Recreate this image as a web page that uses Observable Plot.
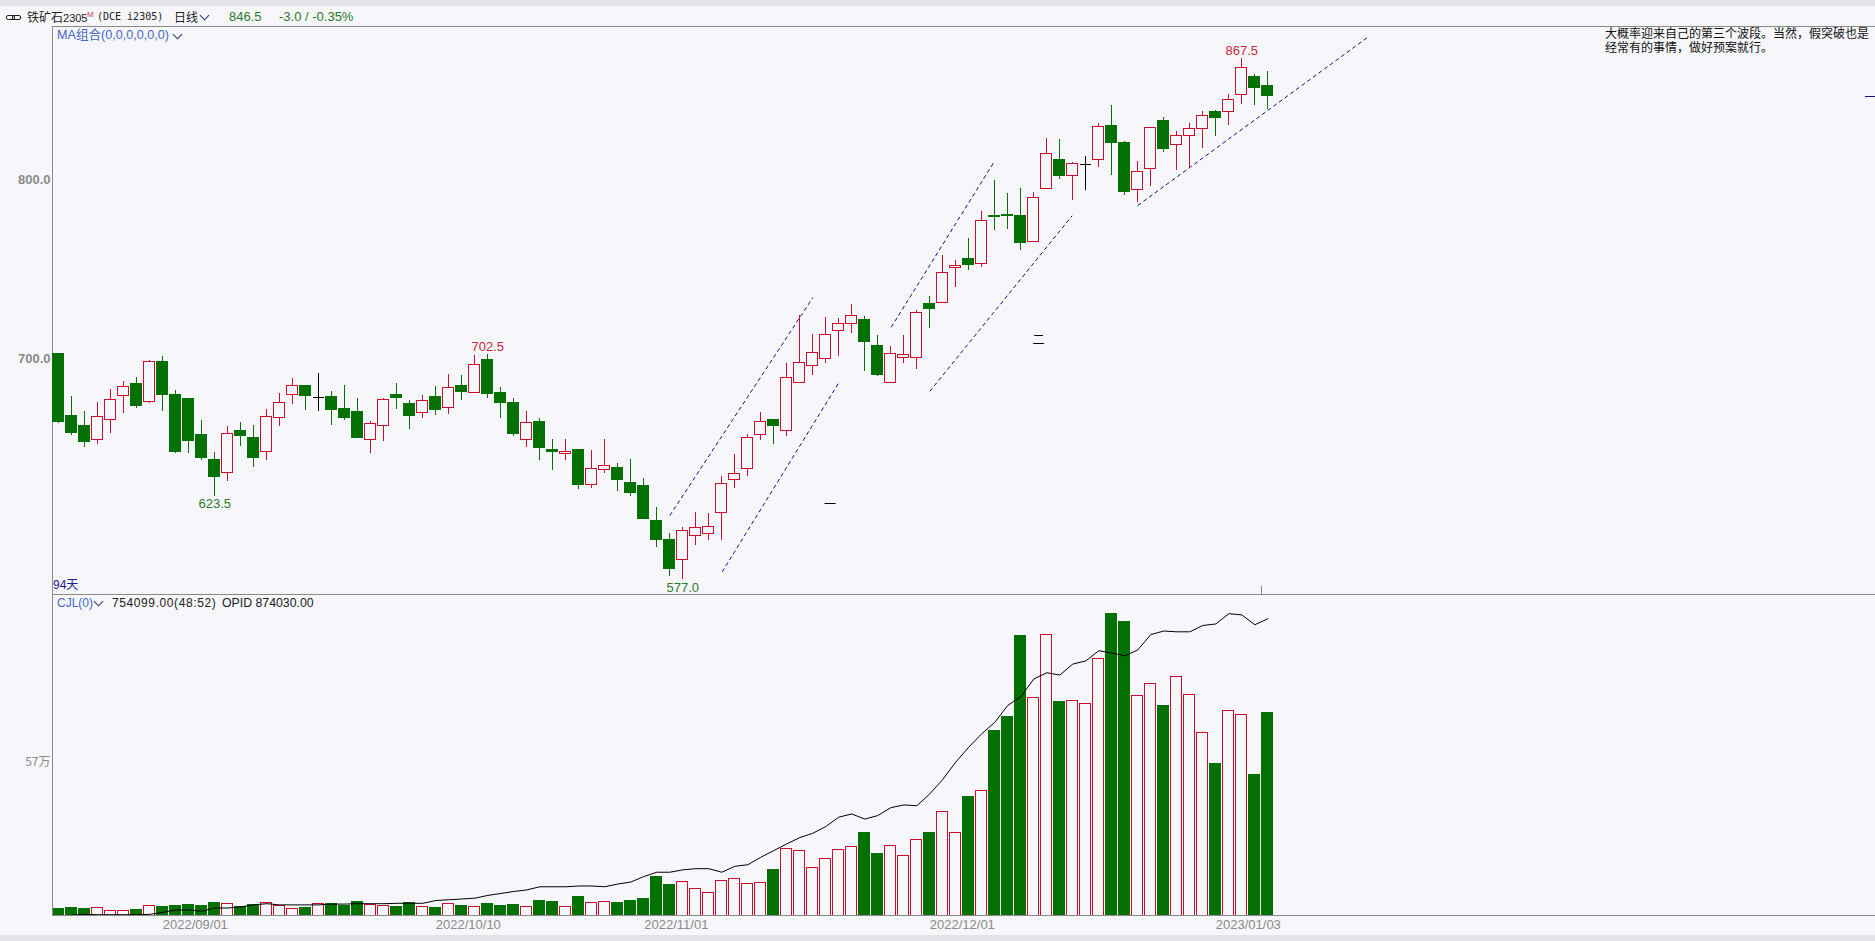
<!DOCTYPE html>
<html lang="zh">
<head>
<meta charset="utf-8">
<script src="https://cdn.jsdelivr.net/npm/d3@7"></script>
<script src="https://cdn.jsdelivr.net/npm/@observablehq/plot@0.6"></script>
<style>
html,body{margin:0;padding:0;width:1875px;height:941px;overflow:hidden;background:#f6f6fb;font-family:"Liberation Sans","Noto Sans CJK SC",sans-serif;}
.band{position:absolute;left:0;width:1875px;background:#e2e2e7;}
.t{position:absolute;white-space:pre;font-size:13px;line-height:14px;color:#222;}
.plot{position:absolute;left:0;}
.chev{position:absolute;width:6px;height:6px;border-right:1.3px solid #2c3e6e;border-bottom:1.3px solid #2c3e6e;transform:rotate(45deg);}
.link{position:absolute;width:7px;height:3px;border:1.5px solid #222;border-radius:2px;}
</style>
</head>
<body>
<div class="band" style="top:0;height:6px"></div>
<div class="band" style="top:935px;height:6px"></div>
<div id="price" class="plot" style="top:26px"></div>
<div id="volume" class="plot" style="top:594px"></div>

<span class="link" style="left:6px;top:15px"></span><span class="link" style="left:12px;top:15px"></span>
<span class="t" style="left:27px;top:10px;font-size:12px;font-family:'Noto Sans CJK SC'">铁矿石<span style="font-family:'Liberation Sans';font-size:11px">2305</span></span>
<span class="t" style="left:87px;top:8px;font-size:8px;color:#d8454f">M</span>
<span class="t" style="left:97px;top:10px;font-size:10px;font-family:'DejaVu Sans Mono'">(DCE i2305)</span>
<span class="t" style="left:174px;top:10px;font-size:12px;font-family:'Noto Sans CJK SC'">日线</span>
<span class="chev" style="left:201px;top:12px"></span>
<span class="t" style="left:229px;top:10px;color:#2c7a2c">846.5</span>
<span class="t" style="left:279px;top:10px;color:#2c7a2c">-3.0 / -0.35%</span>
<span class="t" style="left:57px;top:28px;color:#4a68c4;font-family:'Liberation Sans','Noto Sans CJK SC';font-size:12.6px">MA组合(0,0,0,0,0,0)</span>
<span class="chev" style="left:174px;top:31px"></span>
<span class="t" style="left:57px;top:596px;color:#4a68c4;font-size:12px">CJL(0)</span>
<span class="chev" style="left:95px;top:598px"></span>
<span class="t" style="left:112px;top:596px;font-size:12px;letter-spacing:.6px">754099.00(48:52)</span>
<span class="t" style="left:222px;top:596px;font-size:12.3px">OPID 874030.00</span>
<span class="t" style="left:53px;top:578px;font-size:12px;color:#1c1c8e;font-family:'Liberation Sans','Noto Sans CJK SC'">94天</span>
<span class="t" style="left:1605px;top:26px;font-size:12px;line-height:14.3px;color:#111;font-family:'Noto Sans CJK SC'">大概率迎来自己的第三个波段。当然，假突破也是
经常有的事情，做好预案就行。</span>

<script>
// Daily OHLC, iron ore 2305 (DCE i2305), 94 sessions
const open = [703,668,662.5,655,666,679.5,686,676,698.5,680,677.5,657.5,643.5,636.5,660,656,648,667,680,685,678.5,679,672,670.5,655,662.5,680,675,670,679,672.5,685,681,699.5,681,675.5,655,665,649,647,649,630,638,639,631,629,609.5,599,588,601.5,602.5,614,632.5,638.5,657.5,666,660,686.5,696,700,715.5,719.5,722,707,686.5,700.5,700.5,730.5,731.5,751,756,753,780,780.5,780,765.5,795,811,802,808.5,811,830,820.5,794,806,832.5,819.5,824.5,828,837.5,838,847,857,852.5];
const high = [703,679,670.5,675.5,683,687.5,689.5,699,701.5,682.5,677.5,665.5,648,662.5,664.5,663,672,680.5,689,685,692,682,685,678,665,678,686.5,677,679.5,684.5,691.5,691,702,702.5,684,678,670.5,667,655,655,649,649,655,641.5,644,633.5,617,602.5,606,614.5,614,634.5,646.5,658,670,666,697.5,724.5,713.5,723,722.5,730.5,723.5,713,707,713,727,735,757.5,755,767,782,799.5,792.5,795,793,823,822.5,809.5,813,831.5,841.5,821.5,810,829,834.5,827,831.5,838,838.5,847.5,867.5,858.5,860.5];
const low = [664,657.5,650.5,652.5,658.5,669.5,672.5,675,670.5,647.5,647.5,643.5,623.5,631.5,651,639.5,643.5,662.5,674.5,671.5,670.5,663,665.5,655.5,647.5,654,672,660.5,667,668.5,669,677,681,678,667,657,650.5,643.5,638,643.5,627,628,636,626,623.5,610.5,595,578.5,577,596,599,599,628,634.5,654.5,652.5,657,686.5,691,697.5,701.5,714.5,693,690,686.5,697.5,694,717,731,740,749.5,751,771.5,772,760.5,765.5,795,800,788.5,794,807,802.5,791,787.5,796,815,805,806,817.5,824,830,842,841.5,839];
const close = [665,658.5,653.5,667.5,677,684.5,674,698.5,680,648,654,645,634,658,657,645,667.5,675.5,685,679.5,678.5,671.5,667,656,663.5,677,678,668,676.5,671.5,684,681.5,696.5,680.5,675.5,658,664.5,650.5,648,648,630,638.5,640.5,632.5,625.5,611,599,583,604,605.5,606.5,630.5,636,656,665,662.5,689.5,697.5,703.5,713.5,719.5,724,709.5,691,703,702,725.5,728,748,752,752.5,777,779,779.5,764.5,790,814.5,802,808.5,808.5,829.5,820.5,793,804.5,829,817,824.5,828,835.5,834.5,844.5,862.5,851,846.5];
// Volume and open interest, in units of 10 000 lots
const volume = [2.5,2.9,2.5,2.9,1.7,1.6,2.1,3.5,3.2,3.6,4,3.6,4.5,4.3,3.1,4,4.6,3.6,2.5,2.9,4.2,4.2,3.6,5.1,4,3.6,3.2,4.5,3.2,2.9,4.3,3.6,3.2,4.3,3.6,4,3.1,5.5,5.1,3.1,7,4.6,5,4.7,5.5,6.2,14.2,11.2,12.5,9.9,8.4,12.9,13.7,11.8,12.2,16.8,24.8,24.1,17.8,21.1,24.5,25.6,30.6,23.1,26,22.2,28.2,30.9,38.6,30.8,44,46.5,68.9,73.8,104.3,81.1,104.6,79.7,80,78.9,95.6,112.5,109.2,81.8,86.3,78.2,88.9,82.2,68.1,56.6,76.3,74.8,52.2,75.41];
const openInterest = [null,12.1,12.3,12.2,12.2,12.2,12.2,12.3,12.8,13.4,13.4,13.1,13.9,13.9,14.2,14.7,15,14.7,14.7,14.7,14.7,14.9,14.9,15,15,15,15.1,15.1,15.1,15.8,16,16.2,16.4,17.1,17.6,18.1,18.5,19.3,19.3,19.3,19.5,19.5,19.3,20,20.5,21.9,23,23,23.6,23.9,23.9,23,24.5,24.9,26.8,28.5,30.2,31.8,32.9,34.6,37,37.8,36.5,37.4,39.4,40.1,39.9,42.9,46.6,51,54.8,58.2,61.1,65.4,67.6,72.1,73.7,73.1,75.9,76.7,79.3,78.7,78,79.5,83.4,84.3,84.1,84.1,85.7,86.1,88.7,88.4,85.9,87.4];
// Session index of each date label on the time axis
const dateTickIndex = [10,31,47,69,91];
const dateTickLabel = ["2022/09/01","2022/10/10","2022/11/01","2022/12/01","2023/01/03"];
const priceTicks = [700,800];
const volumeTicks = [57];
// Labelled extremes
const extremeIndex = [12,33,48,91];
const extremeLabel = ["623.5","702.5","577.0","867.5"];
const extremeKind = ["low","high","low","high"];
// Hand-drawn channel lines, in session index and price
const trendStartIndex = [47,51.03,64.03,67,83];
const trendStartPrice = [612.7,581.3,717.7,682,785.6];
const trendEndIndex = [58,59.95,71.9,77.95,100.7];
const trendEndPrice = [734.2,686.2,809.4,779.9,879.5];
// Hand-written wave marks on the chart
const waveMarkText = ["一","二"];
const waveMarkIndex = [59.33,75.37];
const waveMarkPrice = [618.5,710.5];
const lastPrice = 846.5;

const BG = "#f6f6fb", RED = "#c8102e", GREEN = "#037003", AXIS = "#8a8a8a", NAVY = "#101088";
const FONT = "'Liberation Sans','Noto Sans CJK SC',sans-serif";
const W = 1875, HALF = 0.42;
const xDomain = [-0.485, 139.746];
const rows = open.map((o, i) => ({i, open:o, high:high[i], low:low[i], close:close[i], volume:volume[i], oi:openInterest[i],
  dir: close[i] > o ? "up" : close[i] < o ? "down" : "flat"}));
const candleColor = d => d.dir === "up" ? RED : d.dir === "down" ? GREEN : "#000";
const candleFill = d => d.dir === "down" ? GREEN : BG;
const trends = trendStartIndex.map((x, k) => ({x1:x, y1:trendStartPrice[k], x2:trendEndIndex[k], y2:trendEndPrice[k]}));
const extremes = extremeIndex.map((i, k) => ({i, label:extremeLabel[k], kind:extremeKind[k], price: extremeKind[k]==="high" ? high[i] : low[i]}));
const waves = waveMarkText.map((t, k) => ({t, i:waveMarkIndex[k], p:waveMarkPrice[k]}));
const priceDomain = [568.66, 885.44];

const pricePlot = Plot.plot({
  width: W, height: 568, marginTop: 0, marginBottom: 0, marginLeft: 52, marginRight: 0,
  style: {background: "transparent", fontFamily: FONT, overflow: "visible"},
  x: {domain: xDomain, axis: null},
  y: {domain: priceDomain, axis: null},
  marks: [
    Plot.axisY(priceTicks, {anchor: "left", tickSize: 0, tickPadding: 2, fontSize: 13, fontWeight: 600, color: AXIS, tickFormat: d => d.toFixed(1), label: null}),
    Plot.ruleX([xDomain[0]], {stroke: AXIS, shapeRendering: "crispEdges"}),
    Plot.ruleY([priceDomain[1]], {stroke: AXIS, shapeRendering: "crispEdges"}),
    Plot.ruleX([92.54], {y1: priceDomain[0], y2: 573.1, stroke: AXIS, shapeRendering: "crispEdges"}),
    Plot.ruleY([lastPrice], {x1: 139, x2: xDomain[1], stroke: NAVY, shapeRendering: "crispEdges"}),
    Plot.ruleX(rows, {x: "i", y1: "low", y2: "high", stroke: candleColor, strokeWidth: 1, shapeRendering: "crispEdges"}),
    Plot.rect(rows.filter(d => d.dir !== "flat"), {x1: d => d.i - HALF, x2: d => d.i + HALF, y1: "open", y2: "close", fill: candleFill, stroke: candleColor, strokeWidth: 1, shapeRendering: "crispEdges"}),
    Plot.ruleY(rows.filter(d => d.dir === "flat"), {x1: d => d.i - HALF, x2: d => d.i + HALF, y: "close", stroke: "#000", strokeWidth: 1, shapeRendering: "crispEdges"}),
    Plot.link(trends, {x1: "x1", y1: "y1", x2: "x2", y2: "y2", stroke: NAVY, strokeWidth: 1, strokeDasharray: "4,3"}),
    Plot.text(extremes.filter(d => d.kind === "high"), {x: "i", y: "price", text: "label", fontSize: 13, fill: "#c8283c", dy: -8}),
    Plot.text(extremes.filter(d => d.kind === "low"), {x: "i", y: "price", text: "label", fontSize: 13, fill: "#2d7a2d", dy: 8}),
    Plot.text(waves, {x: "i", y: "p", text: "t", fontSize: 12, fill: "#000", fontFamily: "'Noto Sans CJK SC'"})
  ]
});
document.getElementById("price").append(pricePlot);

// Open interest shares the panel but has its own scale: 12 sits on the baseline, 87.4 at the last point.
const oiOnVolumeScale = d => (d.oi - 12) * 1.466;
const volumeTop = 119.6;

const volumePlot = Plot.plot({
  width: W, height: 341, marginTop: 0, marginBottom: 20, marginLeft: 52, marginRight: 0,
  style: {background: "transparent", fontFamily: FONT, overflow: "visible"},
  x: {domain: xDomain, axis: null},
  y: {domain: [0, volumeTop], axis: null},
  marks: [
    Plot.axisY(volumeTicks, {anchor: "left", tickSize: 0, tickPadding: 2, fontSize: 12, fontFamily: "'Noto Sans CJK SC'", color: AXIS, tickFormat: d => d + "万", label: null}),
    Plot.axisX(dateTickIndex, {anchor: "bottom", tickSize: 0, tickPadding: 4, fontSize: 13, color: AXIS, dx: 6.5, tickFormat: d => dateTickLabel[dateTickIndex.indexOf(d)], label: null}),
    Plot.rect(rows, {x1: d => d.i - HALF, x2: d => d.i + HALF, y1: 0, y2: "volume", fill: d => d.dir === "down" ? GREEN : BG, stroke: d => d.dir === "down" ? GREEN : RED, strokeWidth: 1, shapeRendering: "crispEdges"}),
    Plot.line(rows.filter(d => d.oi != null), {x: "i", y: oiOnVolumeScale, stroke: "#000", strokeWidth: 1}),
    Plot.ruleX([xDomain[0]], {stroke: AXIS, shapeRendering: "crispEdges"}),
    Plot.ruleY([volumeTop], {stroke: AXIS, shapeRendering: "crispEdges"}),
    Plot.ruleY([0], {stroke: AXIS, shapeRendering: "crispEdges"})
  ]
});
document.getElementById("volume").append(volumePlot);
</script>
</body>
</html>
